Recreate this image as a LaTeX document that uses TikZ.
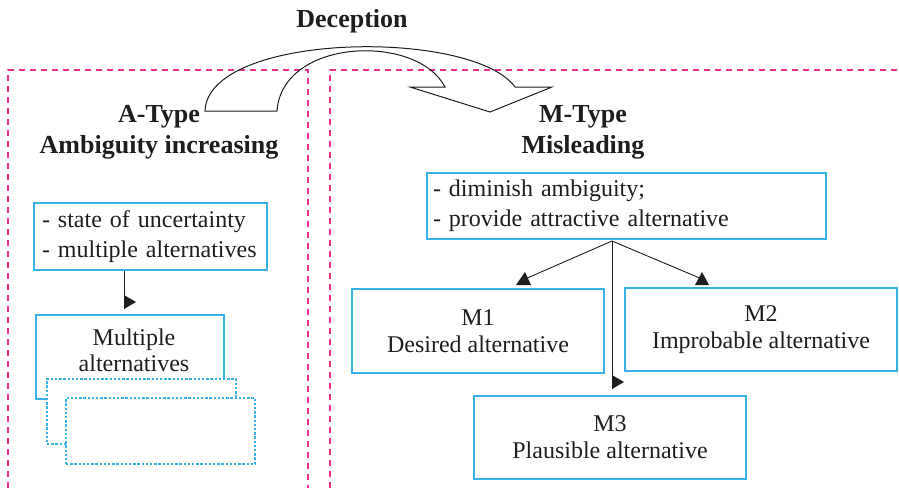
\documentclass[tikz,border=0pt]{standalone}
\usepackage{fontspec}
\setmainfont{Liberation Serif}
\definecolor{framepink}{RGB}{232,48,140}
\definecolor{boxblue}{RGB}{56,178,230}
\definecolor{inkgray}{RGB}{30,30,30}
\begin{document}
\begin{tikzpicture}[x=0.5pt,y=-0.5pt,
  bodytext/.style={font=\fontsize{12pt}{15pt}\selectfont, text=inkgray},
  tighttext/.style={font=\fontsize{12pt}{13.6pt}\selectfont, text=inkgray},
  headtext/.style={font=\fontsize{13pt}{15.5pt}\selectfont\bfseries, text=inkgray, align=center},
  bluebox/.style={draw=boxblue, line width=0.75pt, bodytext, inner sep=0pt},
  ghostbox/.style={draw=boxblue, line width=0.6pt, dash pattern=on 1.2pt off 0.9pt, fill=white, inner sep=0pt},
  panelframe/.style={draw=framepink, line width=0.6pt, dash pattern=on 3pt off 2.5pt},
  link/.style={draw=inkgray, line width=0.45pt},
  tipfill/.style={fill=inkgray},
  bandarrow/.style={draw=inkgray, line width=0.5pt, line join=miter}
]
\useasboundingbox (0,0) rectangle (899,488);

% dashed panel frames
\draw[panelframe] (8,488) -- (8,70) -- (308,70) -- (308,488);
\draw[panelframe] (330,488) -- (330,70) -- (899,70);

% curved band arrow
\draw[bandarrow] (205,111) .. controls (208,32) and (472,28) .. (515,87)
  -- (552,87) -- (490,112) -- (410,87) -- (445,87)
  .. controls (417,33) and (282,38) .. (277,111) -- cycle;

% headings
\node[headtext] (decept) at (352,21) {Deception};
\node[headtext] (atype) at (159,132) {A-Type\\Ambiguity increasing};
\node[headtext] (mtype) at (583,132) {M-Type\\Misleading};

% A-type column
\node[bluebox, minimum height=33.5pt, text width=108.5pt, inner xsep=4pt, align=left]
  (abox) at (150.5,236.5) {- state of uncertainty\\- multiple alternatives};
\node[draw=boxblue, line width=0.75pt, minimum width=94pt, minimum height=42pt, inner sep=0pt]
  (multi) at (130,357) {};
\node[ghostbox, minimum width=94.5pt, minimum height=32.5pt] (ghostA) at (141.5,411.5) {};
\node[ghostbox, minimum width=94.5pt, minimum height=33pt] (ghostB) at (160.5,431) {};
\node[tighttext, align=center, font=\fontsize{12pt}{13pt}\selectfont] (multitext) at (134,350) {Multiple\\alternatives};

\coordinate (atip) at (124,309);
\draw[link] (abox.south -| atip) -- (atip);
\fill[tipfill] (atip) ++(0,-14) -- ++(12,7) -- ++(-12,7) -- cycle;

% M-type column
\node[bluebox, minimum height=33pt, text width=193.5pt, inner xsep=3pt, align=left]
  (mbox) at (626.5,206) {- diminish ambiguity;\\- provide attractive alternative};
\node[bluebox, tighttext, minimum width=126pt, minimum height=42pt, align=center]
  (mone) at (478,331) {M1\\Desired alternative};
\node[bluebox, tighttext, minimum width=136pt, minimum height=41.5pt, align=center]
  (mtwo) at (761,329.5) {M2\\Improbable alternative};
\node[bluebox, tighttext, minimum width=136pt, minimum height=41.5pt, align=center]
  (mthree) at (610,437.5) {M3\\Plausible alternative};

\coordinate (fork) at (612,241);
\coordinate (m1tip) at (525,279);
\coordinate (m2tip) at (702,279);
\coordinate (m3tip) at (612,389);
\draw[link] (fork) -- (m1tip);
\draw[link] (fork) -- (m2tip);
\draw[link] (fork) -- (m3tip);
\fill[tipfill] (m1tip) ++(-9,6) -- ++(15,0) -- ++(-6,-13) -- cycle;
\fill[tipfill] (m2tip) ++(-7,6) -- ++(14,0) -- ++(-7,-13) -- cycle;
\fill[tipfill] (m3tip) ++(0,-14) -- ++(12,7) -- ++(-12,7) -- cycle;
\end{tikzpicture}
\end{document}
